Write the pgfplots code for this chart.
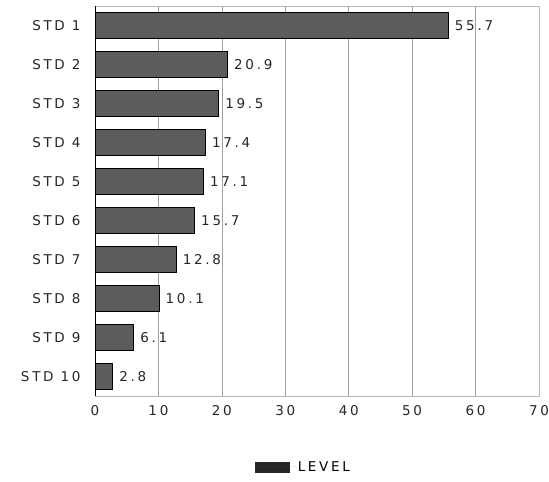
\documentclass[border=0pt]{standalone}
\usepackage{pgfplots}
\pgfplotsset{compat=1.18}
\usepackage{fontspec}
\setmainfont{DejaVu Sans}[LetterSpace=20]
\definecolor{barfill}{RGB}{92,92,92}
\newcommand{\lblfont}{\fontsize{13.5}{15}\selectfont}
\begin{document}
\begin{tikzpicture}
\begin{axis}[
  scale only axis, width=444pt, height=390pt,
  xbar, bar width=26pt,
  xmin=0, xmax=70, ymin=0.5, ymax=10.5,
  y dir=reverse,
  ytick={1,...,10},
  yticklabels={STD\ 1,STD\ 2,STD\ 3,STD\ 4,STD\ 5,STD\ 6,STD\ 7,STD\ 8,STD\ 9,STD\ 10},
  xtick={0,10,...,70},
  xmajorgrids, grid style={gray!75, line width=0.6pt},
  extra x ticks={0}, extra x tick labels={},
  extra tick style={grid style={black, line width=1pt}},
  major tick length=0pt,
  axis line style={gray!55, line width=0.8pt},
  tick label style={font=\lblfont, text=black!85},
  /pgf/number format/assume math mode=true,
  xticklabel style={yshift=-6pt},
  yticklabel style={xshift=-11pt},
  point meta=x,
  nodes near coords={\pgfmathprintnumber[fixed,fixed zerofill,precision=1]{\pgfplotspointmeta}},
  nodes near coords style={anchor=west, font=\lblfont, text=black!85, xshift=3pt},
  legend style={at={(0.47,-0.182)}, anchor=center, draw=none, fill=none, font=\lblfont},
  legend image code/.code={\fill[black!85] (0pt,-5pt) rectangle (34pt,5pt); \path[draw=none] (0pt,0pt) -- (40pt,0pt);},
]
\addplot[fill=barfill, draw=black, line width=0.6pt] coordinates {
  (55.7,1) (20.9,2) (19.5,3) (17.4,4) (17.1,5)
  (15.7,6) (12.8,7) (10.1,8) (6.1,9) (2.8,10)
};
\addlegendentry{LEVEL}
\end{axis}
\pgfresetboundingbox
\path ([xshift=-95pt,yshift=-85pt]current axis.south west) rectangle ([xshift=10pt,yshift=6pt]current axis.north east);
\end{tikzpicture}
\end{document}
